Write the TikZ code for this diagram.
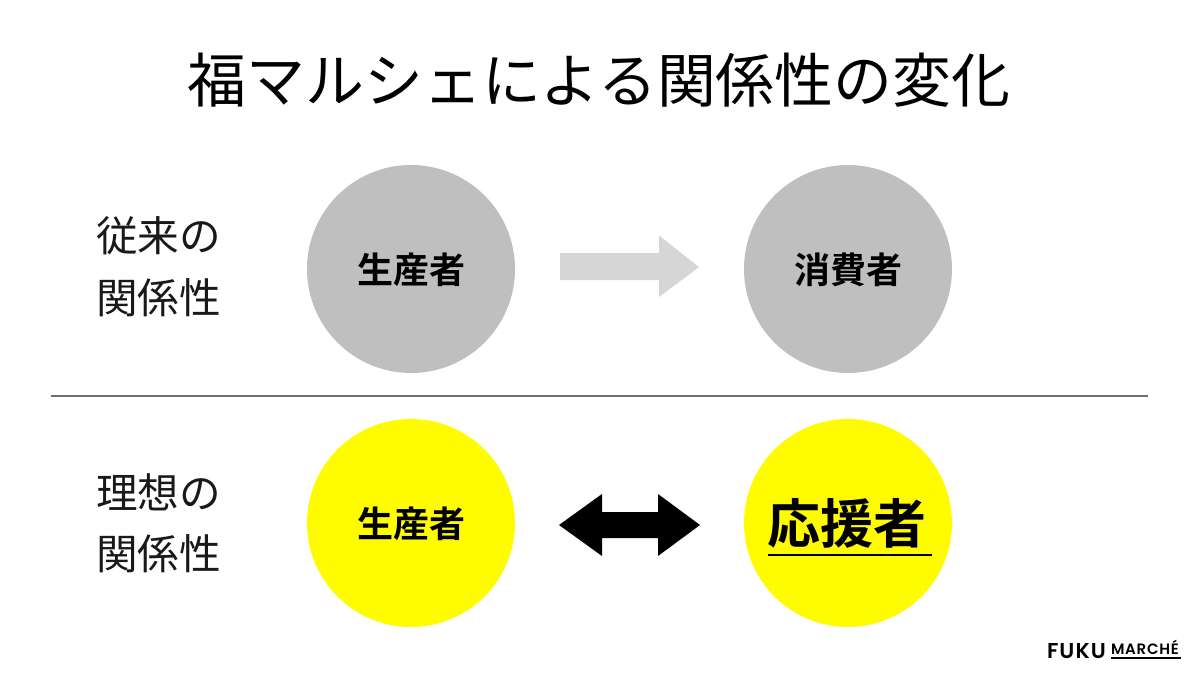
\documentclass[tikz,border=0pt]{standalone}
\usepackage{fontspec}
\setmainfont{Noto Sans CJK JP}
\newfontfamily\jpfont{Noto Sans CJK JP}
\newfontfamily\jpbold{Noto Sans CJK JP Bold}
\newfontfamily\logofont[LetterSpace=5]{Poppins SemiBold}
\newfontfamily\logofontb[LetterSpace=5]{Poppins SemiBold}
\definecolor{peach}{RGB}{255,252,0}
\definecolor{disc}{RGB}{191,191,191}
\definecolor{pale}{RGB}{214,214,214}
\definecolor{rule}{RGB}{110,110,110}
\tikzset{
  every node/.style={inner sep=0pt,outer sep=0pt},
  disc node/.style={circle,minimum size=208pt,fill=#1},
  side/.style={anchor=center,font=\jpfont\fontsize{41.6}{41.6}\selectfont,text=black!90},
  inner label/.style={font=\jpbold\fontsize{36}{36}\selectfont},
}
\begin{document}
\begin{tikzpicture}[x=1pt,y=-1pt]
\useasboundingbox (0,0) rectangle (1200,675);
\fill[white] (0,0) rectangle (1200,675);
\node[font=\jpfont\fontsize{58.9}{59}\selectfont] (title) at (599,80.5) {福マルシェによる関係性の変化};
\node[side] (s1) at (158.5,236) {従来の};
\node[side] (s2) at (158.5,298) {関係性};
\node[side] (s3) at (158.5,492) {理想の};
\node[side] (s4) at (158.5,554) {関係性};
\node[disc node=disc] (a) at (411,269) {};
\node[disc node=disc] (b) at (848,269) {};
\node[disc node=peach] (c) at (411,523) {};
\node[disc node=peach] (d) at (848,523) {};
\node[inner label] (la) at (411,270) {生産者};
\node[inner label] (lb) at (848,270) {消費者};
\node[inner label] (lc) at (411,524) {生産者};
\node[font=\jpbold\fontsize{53}{53}\selectfont] (big) at (847,523) {応援者};
\draw[line width=2.2pt] (768,555) -- (932,555);
\draw[rule,line width=1.3pt] (51,396) -- (1148,396);
\fill[pale] (560,253) -- (659,253) -- (659,235.5) -- (699,267) -- (659,297) -- (659,280) -- (560,280) -- cycle;
\fill[black] (559,525) -- (602,494) -- (602,512) -- (658,512) -- (658,494) -- (700,525) -- (658,556) -- (658,538) -- (602,538) -- (602,556) -- cycle;
\node[anchor=base west,font=\logofont\fontsize{21.5}{21.5}\selectfont] (fuku) at (1047,658) {FUKU};
\node[anchor=base west,font=\logofontb\fontsize{15}{15}\selectfont] (marche) at (1111,654) {MARCHÉ};
\draw[line width=2.2pt] (1111,658) -- (1181,658);
\end{tikzpicture}
\end{document}
